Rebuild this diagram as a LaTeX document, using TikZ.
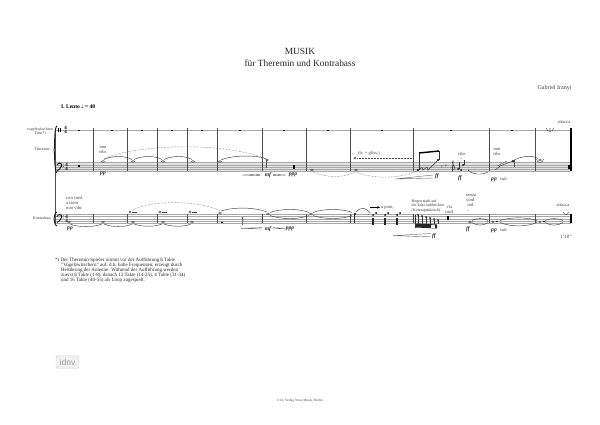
\documentclass[tikz,border=0pt]{standalone}
\usepackage{fontspec}
\usetikzlibrary{shapes,arrows}
\setmainfont{Liberation Serif}
\setsansfont{Liberation Sans}
\newfontfamily\symfont{DejaVu Sans}
\begin{document}
\begin{tikzpicture}[x=1pt,y=-1pt]
	\tikzstyle {staffline} = [gray!70, line width=.45pt]
	\tikzstyle {barline} = [black!70, line width=.7pt]
	\tikzstyle {tie} = [black!75, line width=.45pt]
	\tikzstyle {longslur} = [black!70, line width=.45pt, densely dotted]
	\tikzstyle {hairpin} = [black!60, line width=.4pt]
	\tikzstyle {small} = [inner sep=0pt, font=\fontsize{4.6}{5}\selectfont, text=black!75, align=center]
	\tikzstyle {tiny} = [inner sep=0pt, font=\fontsize{3.9}{4.4}\selectfont, text=black!80, align=center]
	\tikzstyle {dyn} = [inner sep=0pt, font=\fontsize{5.6}{6}\selectfont\bfseries\itshape, text=black!85]
	\tikzstyle {timesig} = [inner sep=0pt, font=\fontsize{5}{4.6}\selectfont\bfseries, align=center]
	\tikzstyle {blob} = [fill=black, inner sep=0pt, minimum width=2.4pt, minimum height=1.3pt]
	\tikzstyle {whole} = [draw=black!80, ellipse, line width=.4pt, inner sep=0pt, minimum width=3pt, minimum height=2pt]

	\useasboundingbox (0,0) rectangle (600,425);
	\fill[white] (0,0) rectangle (600,425);

	% title
	\node[font=\fontsize{9.4}{10}\selectfont, text=black!85] (title) at (300,51) {MUSIK};
	\node[font=\fontsize{9.4}{10}\selectfont, text=black!85] (subtitle) at (300,63) {für Theremin und Kontrabass};
	\node[small, font=\fontsize{6}{6}\selectfont] (composer) at (554.5,88) {Gabriel Iranyi};
	\node[inner sep=0pt, font=\fontsize{5.5}{6}\selectfont\bfseries, anchor=west] (tempo) at (61,107) {I. Lento {\symfont\fontsize{5.5}{6}\selectfont ♩} = 48};

	% instruments
	\node[tiny] (vogel) at (40,131.5) {vogelzwitschern\\Töne*)};
	\node[tiny] (theremin) at (42,149) {Theremin};
	\node[tiny] (kontrabass) at (42,218) {Kontrabass};

	% staves
	\fill[gray!22] (55,162.7) rectangle (571,171.1);
	\draw[staffline] (55,130) -- (571,130);
	\foreach \y in {162.7,164.8,166.9,169,171.1} {
		\draw[staffline] (55,\y) -- (571,\y);
	}
	\foreach \y in {214.3,216.6,218.8,221,223.3} {
		\draw[staffline] (55,\y) -- (571,\y);
	}
	\foreach \x in {93,127,157,187,217,262,306,350,413,489,535} {
		\draw[barline] (\x,128) -- (\x,171.1);
		\draw[barline] (\x,214.3) -- (\x,223.3);
	}
	\draw[black, line width=1.2pt] (571,128) -- (571,171.1);
	\draw[black, line width=1.2pt] (571,214.3) -- (571,223.3);
	\draw[black!70, line width=.5pt] (55,128) -- (55,224);
	\draw[black!90, line width=.9pt] (57,126) .. controls (54,127) and (55,148) .. (54,150) .. controls (55,152) and (54,171) .. (57,173);
	\draw[black!90, line width=.9pt] (57,212) .. controls (54,213) and (55,217) .. (54,219) .. controls (55,221) and (54,225) .. (57,226);

	% clefs and time signatures
	\draw[black, line width=.8pt] (58,128) -- (58,132) (60,128) -- (60,132);
	\foreach \y in {165,216.5} {
		\draw[black, line width=.8pt] (57,\y) .. controls (58,\y-2.5) and (62.5,\y-2.5) .. (61.5,\y+1) .. controls (61,\y+3.5) and (58.5,\y+5) .. (57,\y+6);
		\fill (63.2,\y-.8) circle (.4) (63.2,\y+1.6) circle (.4);
	}
	\node[timesig] (sigtop) at (65.5,130) {4\\4};
	\node[timesig] (sigmid) at (66.5,167) {4\\4};
	\node[timesig] (sigbot) at (66.5,219) {4\\4};

	% rests of the upper line
	\foreach \x in {79,112,142,172,202,240,284,328,382,451,512} {
		\node[blob] at (\x,130.8) {};
	}
	\node[blob] at (79,166) {};
	\node[blob, minimum width=1.2pt, minimum height=3.5pt] at (294,167) {};
	\node[blob, minimum height=3.5pt, minimum width=1.2pt] at (569,167) {};

	% theremin
	\node[small] (nonvibA) at (103,149.5) {non\\vibr.};
	\foreach \x in {103,133,163,193,220} {
		\node[whole] at (\x,161.5) {};
	}
	\draw[tie] (104,159.5) .. controls (112,155.5) and (125,155.5) .. (132,159.5);
	\draw[tie] (134,159.5) .. controls (142,155.5) and (155,155.5) .. (162,159.5);
	\draw[tie] (164,159.5) .. controls (172,155.5) and (185,155.5) .. (192,159.5);
	\draw[tie] (221,160) .. controls (232,155) and (255,155) .. (266,158.5);
	\draw[longslur] (103,159) .. controls (140,143) and (230,142) .. (268,160);
	\node[whole, minimum width=2.5pt] at (267,160) {};
	\draw[black!70, line width=.4pt] (266,160) -- (266,168);
	\node[dyn] (ppA) at (103,174) {pp};
	\draw[hairpin] (242,175) -- (260,174.3) (242,175) -- (260,175.7);
	\node[dyn] (mfA) at (268,175.5) {mf};
	\draw[hairpin] (273,174.3) -- (286,175) (273,175.7) -- (286,175);
	\node[dyn] (pppA) at (293,175) {ppp};
	\node[whole] at (312,170) {};
	\node[whole] at (356,170) {};
	\draw[longslur] (313,172) .. controls (325,178) and (345,178) .. (355,172);
	\draw[longslur] (357,172) .. controls (370,179) and (400,179) .. (417,171);
	\node[small] (trill) at (369,153) {(tr. + gliss.)};
	\node[whole, minimum width=2.4pt] at (355,158) {};
	\draw[black!70, line width=.5pt, densely dotted] (357,158) -- (413,158);
	\draw[hairpin] (395,179) -- (433,175) (395,179) -- (433,178);
	\node[dyn] (ffA) at (437,176) {ff};
	\fill (418,170) circle (1.1) (438,160) circle (1.1);
	\draw[black!80, line width=.5pt] (419,170) -- (419,153) (439,160) -- (439,151);
	\draw[black, line width=1.4pt] (419,153) -- (439,151);
	\draw[black!80, line width=.5pt] (418,170) -- (422,167.5) -- (423,170) -- (427,167) -- (428,170) -- (438,160);
	\node[tiny] (rest) at (442,167) {γ};
	\node[tiny] (rest2) at (446,166) {γ};
	\draw[black!85, line width=.5pt] (453,172) .. controls (451,170) and (454,163) .. (453,161) .. controls (451,162) and (455,168) .. (455,168) .. controls (456,170) and (451,170) .. (452,167);
	\fill (458,169) circle (1) (461,170) circle (1) (463,165) circle (1);
	\draw[black!80, line width=.4pt] (459,169) -- (459,162) (464,165) -- (464,160);
	\node[small] (vibr) at (462,153.5) {vibr.};
	\node[tiny] (accentA) at (461,159) {\^{}};
	\node[dyn] (ffB) at (460,178) {ff};
	\draw[tie] (468,170) .. controls (472,175) and (483,175) .. (488,172);
	\node[small] (nonvibB) at (497,151.5) {non\\vibr.};
	\fill (513,161) circle (1.2);
	\draw[black!80, line width=.4pt] (495,170) -- (499,167) -- (500,166) -- (513,161);
	\draw[black!70, line width=.5pt] (514,160) -- (514,167);
	\draw[black!70, line width=.3pt] (497,166) -- (507,161);
	\draw[tie] (514,160) .. controls (522,156) and (532,155) .. (538,158.5);
	\node[whole] at (540,160) {};
	\draw[black!80, line width=.4pt] (536.5,159) arc[start angle=180, end angle=0, radius=3.5];
	\node[dyn] (ppB) at (494,180) {pp};
	\node[small, font=\fontsize{4.6}{5}\selectfont\itshape] (subA) at (504,179) {sub.};
	\draw[black!80, line width=.4pt] (546.5,128) arc[start angle=180, end angle=0, radius=3.5];
	\fill (550,129) circle (.6);
	\node[small] (attaccaA) at (564,122.5) {attacca};

	% kontrabass
	\node[small, anchor=west, align=left] (consord) at (66,202.5) {con sord.\\a tasto\\non vibr.};
	\node[dyn] (ppC) at (70,229) {pp};
	\foreach \x in {69,103,133,163,192} {
		\node[whole] at (\x,222) {};
	}
	\draw[tie] (70,224) .. controls (78,227.5) and (94,227.5) .. (102,224);
	\draw[tie] (104,224) .. controls (112,227.5) and (125,227.5) .. (132,224);
	\draw[tie] (134,224) .. controls (142,227) and (155,227) .. (162,224);
	\draw[tie] (164,224) .. controls (172,227) and (184,227) .. (191,224);
	\foreach \x in {130,160,190} {
		\node[whole, minimum width=2.4pt] at (\x,212) {};
		\draw[black!75, line width=.35pt] (\x+2,212) -- (\x+7,212);
	}
	\draw[longslur] (133,210) .. controls (150,200) and (200,200) .. (220,211);
	\node[whole] at (220,213) {};
	\node[blob] at (222,222.5) {};
	\draw[black!60, line width=.4pt] (242,225) -- (242,217);
	\draw[tie] (221,211) .. controls (233,207) and (255,207) .. (267,212);
	\draw[hairpin] (241,228.3) -- (262,227.6) (241,228.3) -- (262,229);
	\node[dyn] (mfB) at (268,229) {mf};
	\draw[hairpin] (273,227.6) -- (285,228.3) (273,229) -- (285,228.3);
	\node[dyn] (pppB) at (290,229) {ppp};
	\foreach \x in {268,311} {
		\node[whole] at (\x,214) {};
	}
	\draw[tie] (270,212.5) .. controls (280,208.5) and (300,208.5) .. (309,212.5);
	\draw[tie] (270,215.5) .. controls (280,219.5) and (300,219.5) .. (309,215.5);
	\draw[tie] (313,212.5) .. controls (323,208.5) and (343,208.5) .. (352,212.5);
	\draw[tie] (313,215.5) .. controls (323,219.5) and (343,219.5) .. (352,215.5);
	\fill (355,214) circle (1.2);
	\draw[black!80, line width=.4pt] (354,214) -- (354,223);
	\draw[tie] (356,212) .. controls (360,207) and (366,207) .. (370,213);
	\draw[-stealth, line width=.3pt] (370,207.3) -- (380,207.3);
	\node[small, anchor=west] (apont) at (381,207.3) {a pont.};
	\foreach \x in {373,385,397} {
		\draw[black!85, line width=2.4pt] (\x,217.5) -- (\x,225);
		\fill (\x,215) circle (1) (\x+3,213) circle (1);
	}
	\draw[hairpin] (393,235.7) -- (431,233.5) (393,235.7) -- (431,236.8);
	\node[dyn] (ffC) at (434,236) {ff};
	\node[tiny, anchor=west, align=left] (bogen) at (411.5,206) {Bogen stark auf\\die Saite aufdrücken\\(Kontrapunktisch)};
	\node[small] (viasord) at (449.5,209.5) {via\\sord.};
	\node[blob, minimum width=1.2pt, minimum height=3.5pt] at (448,218) {};
	\draw[black!80, line width=.4pt] (415.5,215) -- (415.5,228);
	\foreach \x/\y in {418/215,422/216,426/217,430/218,434/219,438/220} {
		\fill (\x,\y) circle (.9);
		\draw[black!80, line width=.3pt] (\x,\y) -- (\x,224);
	}
	\fill[black!85] (416,223.5) -- (437,224.5) -- (437,228.5) -- (416,227.5) -- cycle;
	\fill[white] (431,225) rectangle (435,228);
	\node[small] (senza) at (471,200.5) {senza\\sord.\\ord.};
	\node[tiny] (accentB) at (468,211) {\^{}};
	\node[dyn] (ffD) at (468,229) {ff};
	\node[whole] at (470,222) {};
	\draw[tie] (472,220.5) .. controls (476,218) and (484,218) .. (488,220.5);
	\draw[tie] (472,222.5) .. controls (476,226) and (484,226) .. (488,222.5);
	\fill (493,222) circle (.8) (497,221.5) circle (.8);
	\draw[tie] (500,220.5) .. controls (510,217) and (527,217) .. (537,220.5);
	\draw[tie] (500,222.5) .. controls (510,227) and (527,227) .. (537,222.5);
	\fill (540,222) circle (.8) (544,221.5) circle (.8);
	\draw[tie] (545,220.5) .. controls (550,218) and (558,218) .. (563,220.5);
	\draw[tie] (545,222.5) .. controls (550,226) and (558,226) .. (563,222.5);
	\node[dyn] (ppD) at (494,231) {pp};
	\node[small, font=\fontsize{4.6}{5}\selectfont\itshape] (subB) at (504,230) {sub.};
	\draw[black!80, line width=.4pt] (563.5,212) arc[start angle=180, end angle=0, radius=2.5];
	\node[small] (attaccaB) at (563,205) {attacca};
	\node[small, font=\fontsize{5}{5}\selectfont] (dauer) at (566,237) {1'10"};

	% footnote
	\node[inner sep=0pt, anchor=north west, align=left, text=black!85, font=\fontsize{5}{5}\selectfont] (fussnote) at (55,257.5) {*) Der Theremin-Spieler nimmt vor der Aufführung 8 Takte\\
		\hspace*{6pt}"Vogelzwitschern" auf, d.h. hohe Frequenzen, erzeugt durch\\
		\hspace*{6pt}Berührung der Antenne. Während der Aufführung werden\\
		\hspace*{6pt}zuerst 8 Takte (1-8), danach 12 Takte (14-25), 4 Takte (31-34)\\
		\hspace*{6pt}und 16 Takte (40-55) als Loop zugespielt.};

	% logo and copyright
	\node[draw=gray!35, fill=gray!12, rounded corners=1.5pt, text=gray!75, inner sep=0pt, minimum width=23pt, minimum height=12.5pt, font=\sffamily\fontsize{8.5}{9}\selectfont] (logo) at (67.5,362) {idnv};
	\node[inner sep=0pt, text=black!70, font=\fontsize{3.5}{4}\selectfont] (copyright) at (300,400.5) {© by Verlag Neue Musik, Berlin};
\end{tikzpicture}
\end{document}
